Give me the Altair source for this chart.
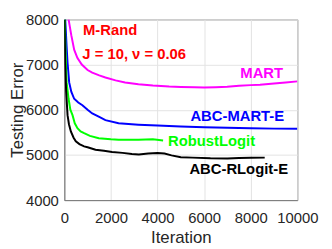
import altair as alt
import pandas as pd

# ---- data ----
mart_x = [184, 300, 424, 560, 750, 1000, 1200, 1500, 1765, 2200, 2610, 3180, 3800, 4500, 5000, 5580, 6000, 6500, 6990, 7500, 8000, 8400, 9000, 9500, 10000]
mart_y = [8000, 7650, 7330, 7150, 7000, 6880, 6820, 6760, 6714, 6650, 6605, 6565, 6535, 6512, 6505, 6496, 6490, 6500, 6510, 6530, 6545, 6554, 6580, 6605, 6628]

abcmart_x = [40, 100, 140, 210, 300, 424, 600, 777, 1000, 1200, 1500, 1765, 2330, 3180, 4000, 5000, 6000, 7000, 8000, 9000, 10000]
abcmart_y = [8000, 7400, 7040, 6605, 6400, 6243, 6160, 6100, 6000, 5917, 5840, 5770, 5700, 5670, 5650, 5630, 5610, 5600, 5590, 5582, 5578]

robust_x = [20, 60, 100, 184, 260, 353, 450, 565, 700, 850, 1100, 1480, 2000, 2330, 3180, 3500, 3800, 4240]
robust_y = [8000, 7200, 6605, 6243, 6000, 5880, 5700, 5590, 5520, 5480, 5420, 5370, 5345, 5335, 5335, 5340, 5345, 5318]

abcrl_x = [10, 40, 80, 140, 200, 282, 400, 494, 650, 850, 1000, 1340, 1700, 2050, 2500, 2900, 3200, 3600, 4000, 4300, 4600, 5000, 5500, 6270, 7000, 7500, 8000, 8600]
abcrl_y = [8000, 7000, 6400, 5880, 5680, 5520, 5380, 5300, 5240, 5190, 5170, 5115, 5090, 5065, 5045, 5020, 5010, 5030, 5040, 5030, 4990, 4950, 4940, 4924, 4920, 4930, 4935, 4940]

series_names = ["MART", "ABC-MART-E", "RobustLogit", "ABC-RLogit-E"]
series_colors = ["#ff00ff", "#0000ff", "#00ff00", "#000000"]

label_texts = ["M-Rand", "J = 10, ν = 0.06", "MART", "ABC-MART-E", "RobustLogit", "ABC-RLogit-E"]
label_x = [805, 775, 7555, 5411, 4449, 5369]
label_y = [7657, 7113, 6700, 5757, 5200, 4576]
label_colors = ["#ff0000", "#ff0000", "#ff00ff", "#0000ff", "#00ff00", "#000000"]

x_ticks = [0, 2000, 4000, 6000, 8000, 10000]
y_ticks = [4000, 5000, 6000, 7000, 8000]

# ---- build tables ----
rows = []
for name, xs, ys in zip(series_names, [mart_x, abcmart_x, robust_x, abcrl_x],
                        [mart_y, abcmart_y, robust_y, abcrl_y]):
    for i, (a, b) in enumerate(zip(xs, ys)):
        rows.append({"series": name, "iter": a, "err": b, "order": i})
df = pd.DataFrame(rows)

labels = pd.DataFrame({"text": label_texts, "x": label_x, "y": label_y, "c": label_colors})

FONT = "Liberation Sans"

xscale = alt.Scale(domain=[0, 10000], nice=False)
yscale = alt.Scale(domain=[4000, 8000], nice=False)

lines = alt.Chart(df).mark_line(strokeWidth=2, clip=True).encode(
    x=alt.X("iter:Q", scale=xscale, title="Iteration",
            axis=alt.Axis(values=x_ticks, format="d", grid=True, tickSize=0,
                          labelPadding=11, labelFontSize=15, labelFont=FONT,
                          labelColor="#262626", titleFont=FONT, titleFontSize=17,
                          titleFontWeight="normal", titleColor="#262626",
                          titleBaseline="alphabetic", titleY=43, titleX=118,
                          domainColor="#777777", gridColor="#e3e3e3",
                          labelFlush=False)),
    y=alt.Y("err:Q", scale=yscale, title="Testing Error",
            axis=alt.Axis(values=y_ticks, format="d", grid=True, tickSize=0,
                          labelPadding=6, labelFontSize=15, labelFont=FONT,
                          labelColor="#262626", titleFont=FONT, titleFontSize=17,
                          titleFontWeight="normal", titleColor="#262626",
                          titleAngle=270, titleBaseline="middle", titleAlign="center",
                          titleX=-47, titleY=91.5,
                          domainColor="#777777", gridColor="#e3e3e3",
                          labelFlush=False)),
    color=alt.Color("series:N", scale=alt.Scale(domain=series_names, range=series_colors), legend=None),
    order="order:Q",
)

texts = alt.Chart(labels).mark_text(
    font=FONT, fontSize=15, fontWeight="bold", align="left", baseline="alphabetic"
).encode(
    x=alt.X("x:Q", scale=xscale),
    y=alt.Y("y:Q", scale=yscale),
    text="text:N",
    color=alt.Color("c:N", scale=None),
)

chart = alt.layer(lines, texts).properties(
    width=236, height=183,
    autosize=alt.AutoSizeParams(type="none"),
    padding={"left": 57, "top": 10, "right": 27, "bottom": 48},
    background="white",
).configure_view(stroke="#777777", strokeWidth=1)

chart.save("out.html", embed_options={"renderer": "svg", "actions": False})
